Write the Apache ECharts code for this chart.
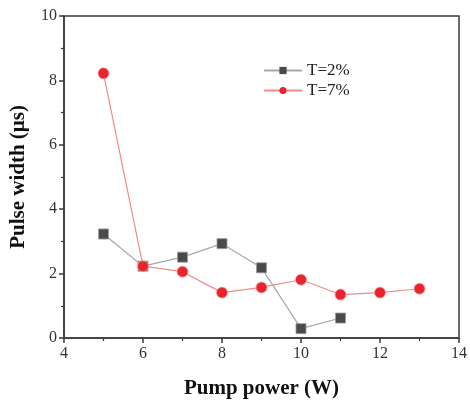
<!DOCTYPE html>
<html>
<head>
<meta charset="utf-8">
<script src="https://cdn.jsdelivr.net/npm/echarts@6/dist/echarts.min.js"></script>
<style>
  html, body { margin: 0; padding: 0; background: #fff; }
  #chart { width: 470px; height: 404px; }
</style>
</head>
<body>
<div id="chart"></div>
<script>
// pump power (W)
const power2 = [5, 6, 7, 8, 9, 10, 11];
const power7 = [5, 6, 7, 8, 9, 10, 11, 12, 13];
// pulse width (us)
const width2 = [3.23, 2.23, 2.51, 2.93, 2.18, 0.29, 0.62];
const width7 = [8.22, 2.23, 2.06, 1.41, 1.57, 1.81, 1.35, 1.41, 1.53];
// error bars
const err2 = [0.15, 0.08, 0.08, 0.1, 0.06, 0.05, 0.05];
const err7 = [0.15, 0.08, 0.1, 0.1, 0.06, 0.05, 0.05, 0.05, 0.05];
const xTicks = [4, 6, 8, 10, 12, 14];
const yTicks = [0, 2, 4, 6, 8, 10];

const font = 'Liberation Serif';

function pairs(xs, ys) {
  return xs.map((x, i) => [x, ys[i]]);
}
function errData(xs, ys, es) {
  return xs.map((x, i) => [x, ys[i] - es[i], ys[i] + es[i]]);
}
function errSeries(data, color) {
  return {
    type: 'custom',
    silent: true,
    z: 1,
    data: data,
    renderItem: function (params, api) {
      const lo = api.coord([api.value(0), api.value(1)]);
      const hi = api.coord([api.value(0), api.value(2)]);
      const w = 3;
      const st = { stroke: color, lineWidth: 1 };
      return {
        type: 'group',
        children: [
          { type: 'line', shape: { x1: lo[0], y1: lo[1], x2: hi[0], y2: hi[1] }, style: st },
          { type: 'line', shape: { x1: lo[0] - w, y1: lo[1], x2: lo[0] + w, y2: lo[1] }, style: st },
          { type: 'line', shape: { x1: hi[0] - w, y1: hi[1], x2: hi[0] + w, y2: hi[1] }, style: st }
        ]
      };
    }
  };
}

let myChart = echarts.init(document.getElementById('chart'));
myChart.setOption({
  animation: false,
  backgroundColor: '#fff',
  grid: {
    left: 61, right: 7, top: 16, bottom: 65,
    show: true,
    borderColor: '#3a3a3a',
    borderWidth: 1.5
  },
  legend: {
    orient: 'vertical',
    left: 263, top: 62,
    padding: 0,
    itemWidth: 38, itemHeight: 9,
    itemGap: 3,
    itemStyle: { borderWidth: 0 },
    textStyle: { fontFamily: font, fontSize: 17, color: '#222' },
    data: ['T=2%', 'T=7%']
  },
  xAxis: {
    type: 'value',
    min: 4, max: 14, interval: 2,
    name: 'Pump power (W)',
    nameLocation: 'middle',
    nameGap: 40,
    nameTextStyle: { fontFamily: font, fontSize: 21, fontWeight: 'bold', color: '#111' },
    axisLine: { lineStyle: { color: '#3a3a3a', width: 1.5 } },
    axisTick: { show: true, length: 5, inside: false, lineStyle: { color: '#3a3a3a', width: 1.5 } },
    minorTick: { show: true, splitNumber: 2, length: 3, lineStyle: { color: '#3a3a3a', width: 1.2 } },
    axisLabel: {
      fontFamily: font, fontSize: 16, color: '#333', margin: 8,
      formatter: v => xTicks.includes(v) ? String(v) : ''
    },
    splitLine: { show: false }
  },
  yAxis: {
    type: 'value',
    min: 0, max: 10, interval: 2,
    name: 'Pulse width (μs)',
    nameLocation: 'middle',
    nameGap: 35,
    nameTextStyle: { fontFamily: font, fontSize: 21, fontWeight: 'bold', color: '#111' },
    axisLine: { show: true, lineStyle: { color: '#3a3a3a', width: 1.5 } },
    axisTick: { show: true, length: 5, inside: false, lineStyle: { color: '#3a3a3a', width: 1.5 } },
    minorTick: { show: true, splitNumber: 2, length: 3, lineStyle: { color: '#3a3a3a', width: 1.2 } },
    axisLabel: {
      fontFamily: font, fontSize: 16, color: '#333', margin: 7,
      formatter: v => yTicks.includes(v) ? String(v) : ''
    },
    splitLine: { show: false }
  },
  series: [
    errSeries(errData(power2, width2, err2), '#b0b0b0'),
    errSeries(errData(power7, width7, err7), '#f3a0a0'),
    {
      name: 'T=2%',
      type: 'line',
      data: pairs(power2, width2),
      symbol: 'rect',
      symbolSize: 10,
      z: 3,
      lineStyle: { color: '#a8a8a8', width: 1.2 },
      itemStyle: { color: '#4a4a4a', borderColor: '#9a9a9a', borderWidth: 0.8 }
    },
    {
      name: 'T=7%',
      type: 'line',
      data: pairs(power7, width7),
      symbol: 'circle',
      symbolSize: 11,
      z: 4,
      lineStyle: { color: '#f08a8a', width: 1.2 },
      itemStyle: { color: '#e8242c', borderColor: '#f7a0a0', borderWidth: 0.8 }
    }
  ]
});
window.onresize = function () {
  myChart.resize();
};
</script>
</body>
</html>
